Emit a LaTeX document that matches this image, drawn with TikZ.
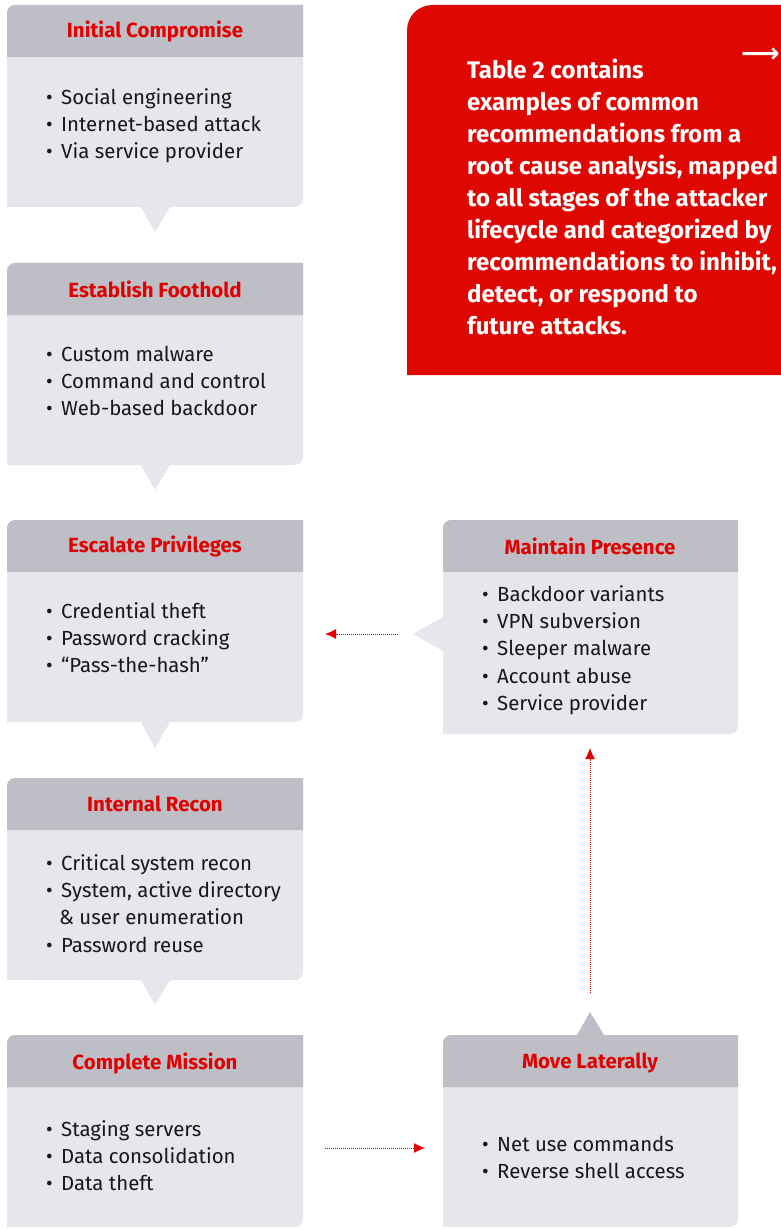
\documentclass[tikz,border=0pt]{standalone}
\usepackage{fontspec}
\setmainfont{Fira Sans}
\newfontfamily\symfont{DejaVu Sans}
\usetikzlibrary{arrows.meta}
\definecolor{hdr}{RGB}{190,191,198}
\definecolor{bodyc}{RGB}{230,230,236}
\definecolor{redt}{RGB}{224,0,0}
\definecolor{redbox}{RGB}{222,8,0}
\definecolor{txt}{RGB}{24,24,24}
\newcommand\bl[1]{\makebox[15pt][l]{\textbullet}#1}
% #1 x0, #2 y0, #3 x1, #4 y1, #5 header bottom
\newcommand\stagebox[5]{%
  \fill[bodyc] (#1,#4) -- (#1,#2+8) .. controls (#1,#2+3.6) and (#1+3.6,#2) .. (#1+8,#2)
    -- (#3,#2) -- (#3,#4-8) .. controls (#3,#4-3.6) and (#3-3.6,#4) .. (#3-8,#4) -- cycle;
  \fill[hdr] (#1,#5) -- (#1,#2+8) .. controls (#1,#2+3.6) and (#1+3.6,#2) .. (#1+8,#2)
    -- (#3,#2) -- (#3,#5) -- cycle;}
\begin{document}
\begin{tikzpicture}[x=1pt,y=-1pt,
  title/.style={font=\fontsize{20.5}{24}\selectfont\bfseries, text=redt, inner sep=0pt},
  list/.style={font=\fontsize{20.4}{27.3}\selectfont, text=txt, align=left, inner sep=0pt, anchor=north west},
  conn/.style={draw=redt, line width=0.9pt, dash pattern=on 1pt off 1pt, -{Latex[length=11pt,width=10pt]}},
  area/.style={inner sep=0pt, anchor=north west, minimum width=296pt}]
\useasboundingbox (0,0) rectangle (780,1230);

% left column boxes
\stagebox{7}{5}{303}{207}{57}
\fill[bodyc] (141,207) -- (155,232) -- (170,207) -- cycle;
\stagebox{7}{263}{303}{465}{315}
\fill[bodyc] (141,465) -- (155,490) -- (170,465) -- cycle;
\stagebox{7}{520}{303}{722}{572}
\fill[bodyc] (141,722) -- (155,748) -- (170,722) -- cycle;
\stagebox{7}{778}{303}{980}{830}
\fill[bodyc] (141,980) -- (155,1005) -- (170,980) -- cycle;
\stagebox{7}{1035}{303}{1227}{1087}

% right column boxes
\stagebox{443}{520}{738}{734}{572}
\fill[bodyc] (443,617) -- (413,634) -- (443,651) -- cycle;
\stagebox{443}{1035}{738}{1227}{1087}
\fill[hdr] (577,1035) -- (590,1012) -- (604,1035) -- cycle;

% named areas
\node[area, minimum height=202pt] (ic) at (7,5) {};
\node[area, minimum height=202pt] (ef) at (7,263) {};
\node[area, minimum height=202pt] (ep) at (7,520) {};
\node[area, minimum height=202pt] (ir) at (7,778) {};
\node[area, minimum height=192pt] (cm) at (7,1035) {};
\node[area, minimum height=214pt, minimum width=295pt] (mp) at (443,520) {};
\node[area, minimum height=192pt, minimum width=295pt] (ml) at (443,1035) {};

% titles
\node[title] (ict) at (155,31) {Initial Compromise};
\node[title] (eft) at (155,289) {Establish Foothold};
\node[title] (ept) at (155,546) {Escalate Privileges};
\node[title] (irt) at (155,804) {Internal Recon};
\node[title] (cmt) at (155,1063) {Complete Mission};
\node[title] (mpt) at (590,546) {Maintain Presence};
\node[title] (mlt) at (590,1063) {Move Laterally};

% lists
\node[list] (icl) at (46,88) {\bl{Social engineering}\\\bl{Internet-based attack}\\\bl{Via service provider}};
\node[list] (efl) at (46,345.5) {\bl{Custom malware}\\\bl{Command and control}\\\bl{Web-based backdoor}};
\node[list] (epl) at (46,602) {\bl{Credential theft}\\\bl{Password cracking}\\\bl{“Pass-the-hash”}};
\node[list] (irl) at (46,854) {\bl{Critical system recon}\\\bl{System, active directory}\\\hspace{13pt}\& user enumeration\\\bl{Password reuse}};
\node[list] (cml) at (46,1120) {\bl{Staging servers}\\\bl{Data consolidation}\\\bl{Data theft}};
\node[list] (mpl) at (482,585) {\bl{Backdoor variants}\\\bl{VPN subversion}\\\bl{Sleeper malware}\\\bl{Account abuse}\\\bl{Service provider}};
\node[list] (mll) at (482,1136) {\bl{Net use commands}\\\bl{Reverse shell access}};

% red note
\fill[redbox] (407,375) -- (407,31) .. controls (407,16) and (418,5) .. (433,5) -- (782,5) -- (782,375) -- cycle;
\node[font=\fontsize{24}{32}\selectfont\bfseries, text=white, align=left, inner sep=0pt, anchor=north west] (note) at (467,58.5)
 {Table 2 contains\\examples of common\\recommendations from a\\root cause analysis, mapped\\to all stages of the attacker\\lifecycle and categorized by\\recommendations to inhibit,\\detect, or respond to\\future attacks.};
\node[font=\symfont\bfseries\fontsize{27}{27}\selectfont, text=white, inner sep=0pt, anchor=west] (narr) at (741,55) {⟶};

% connectors
\coordinate (a1s) at (398,634);
\coordinate (a1e) at (325,634);
\coordinate (a2s) at (325,1148);
\coordinate (a2e) at (425,1148);
\coordinate (a3s) at (590,993);
\coordinate (a3e) at (590,748);
\draw[conn] (a1s) -- (a1e);
\draw[conn] (a2s) -- (a2e);
\draw[conn] (a3s) -- (a3e);
\end{tikzpicture}
\end{document}
